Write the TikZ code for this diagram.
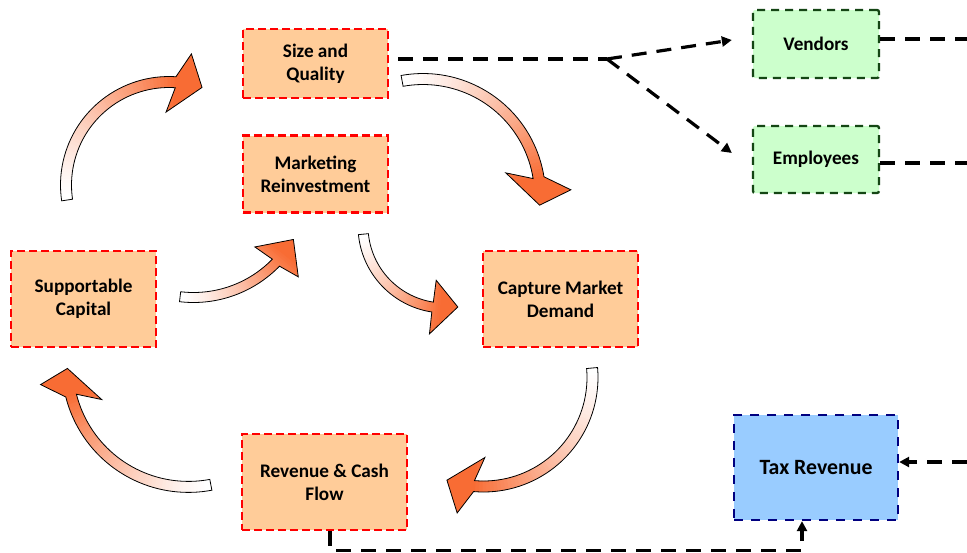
\documentclass[tikz,border=0pt]{standalone}
\usepackage{fontspec}
\setmainfont{Carlito}
\usetikzlibrary{arrows.meta,calc}
\definecolor{boxor}{RGB}{255,204,153}
\definecolor{boxgr}{RGB}{204,255,204}
\definecolor{boxbl}{RGB}{153,204,255}
\definecolor{dgreen}{RGB}{20,70,20}
\definecolor{navyb}{RGB}{0,0,128}
\definecolor{arrowor}{RGB}{248,108,52}
% #1 cx, #2 cy, #3 r, #4 tail angle, #5 head base angle, #6 tip offset, #7 head half width, #8 shaft width, #9 base tilt
\newcommand{\ArrowPath}[9]{plot[domain=0:1,samples=40] ({#4+(#5-(#4))*\x}:{#3+#8/2}) -- ({#5+#9*\sgn}:{#3+#7}) -- ({#5+#6*\sgn}:{#3}) -- ({#5-#9*\sgn}:{#3-#7}) -- plot[domain=0:1,samples=40] ({#5+(#4-(#5))*\x}:{#3-#8/2}) -- cycle}
\newcommand{\CurvArrow}[9]{%
  \pgfmathsetmacro{\sgn}{sign(#5-(#4))}%
  \begin{scope}[shift={(#1,#2)}]
    \begin{scope}
      \clip \ArrowPath{#1}{#2}{#3}{#4}{#5}{#6}{#7}{#8}{#9};
      \foreach \k in {0,...,59} {
        \pgfmathsetmacro{\ta}{#4+(#5+#6*\sgn-(#4))*\k/60}
        \pgfmathsetmacro{\tb}{#4+(#5+#6*\sgn-(#4))*(\k+1.4)/60}
        \pgfmathtruncatemacro{\pc}{min(100,100*(\k/52)^1.3)}
        \fill[arrowor!\pc!white] (0,0) -- (\ta:{#3+#7+20}) -- (\tb:{#3+#7+20}) -- cycle;
      }
    \end{scope}
    \draw[line width=0.8pt,line join=miter] \ArrowPath{#1}{#2}{#3}{#4}{#5}{#6}{#7}{#8}{#9};
  \end{scope}}
\tikzset{
  obox/.style={draw=red, fill=boxor, line width=2.3pt, dash pattern=on 8pt off 4pt, align=center, inner sep=0pt,
    font=\bfseries\fontsize{19.2}{23}\selectfont},
  gbox/.style={draw=dgreen, fill=boxgr, line width=2.3pt, dash pattern=on 8pt off 6pt, rounded corners=2pt, align=center, inner sep=0pt,
    font=\bfseries\fontsize{19.2}{23}\selectfont},
  bbox/.style={draw=navyb, fill=boxbl, line width=2.3pt, dash pattern=on 9pt off 8pt, align=center, inner sep=0pt,
    font=\bfseries\fontsize{21.8}{26}\selectfont},
  conn/.style={line width=3.2pt, dash pattern=on 15pt off 10pt, black},
  arrtip/.style={-{Triangle[length=10pt,width=10pt]}}
}
\begin{document}
\begin{tikzpicture}[x=1pt,y=-1pt]
\useasboundingbox (0,0) rectangle (967,552);
\fill[white] (0,0) rectangle (967,552);

% curved arrows
\CurvArrow{169}{185}{103}{171.6}{273.7}{15}{30}{11}{6}
\CurvArrow{423}{196}{117}{259.7}{351}{13.5}{31}{11}{6.6}
\CurvArrow{193.5}{182.5}{115}{96.7}{44.2}{14.5}{26}{10}{2.2}
\CurvArrow{445}{226}{82}{174.3}{98.7}{17.7}{27}{10}{0.5}
\CurvArrow{483.5}{377.5}{109}{-5}{95}{14.6}{29}{11}{6}
\CurvArrow{188.4}{365.9}{121}{79.3}{165.8}{13}{28}{11}{7}

% boxes
\node[obox, minimum width=145pt, minimum height=69pt] (sq) at (315.5,63.5) {Size and\\Quality};
\node[obox, minimum width=145pt, minimum height=77pt] (mr) at (315.5,174) {Marketing\\Reinvestment};
\node[obox, minimum width=145pt, minimum height=96pt] (sc) at (83.5,299) {Supportable\\Capital};
\node[obox, minimum width=155pt, minimum height=96pt] (cm) at (560.5,299) {Capture Market\\Demand};
\node[obox, minimum width=165pt, minimum height=96pt] (rc) at (324.5,482) {Revenue \& Cash\\Flow};
\node[gbox, minimum width=126pt, minimum height=68pt] (vd) at (816,44) {Vendors};
\node[gbox, minimum width=126pt, minimum height=67pt] (em) at (816,159.5) {Employees};
\node[bbox, minimum width=164pt, minimum height=105pt] (tx) at (816,467.5) {Tax Revenue};

% connectors
\coordinate (br) at (607,59);
\coordinate (s0) at (sq.east |- br);
\coordinate (vr) at (967,39);
\coordinate (er) at (967,163);
\coordinate (tr) at (967,462);
\draw[conn] ([xshift=9pt]s0) -- (br);
\draw[conn,arrtip] (br) -- ([xshift=-20pt,yshift=4pt]vd.west);
\draw[conn,arrtip] (br) -- ([xshift=-20pt,yshift=6.5pt]em.west);
\draw[conn] ([yshift=5pt]vd.east) -- (vr);
\draw[conn] ([yshift=-3.5pt]em.east) -- (er);
\draw[conn,arrtip] (tr) -- ([yshift=5.5pt]tx.east);
\draw[conn,arrtip] ([xshift=5.5pt]rc.south) -- ++(0,19) -| ([xshift=-14pt]tx.south);
\end{tikzpicture}
\end{document}
